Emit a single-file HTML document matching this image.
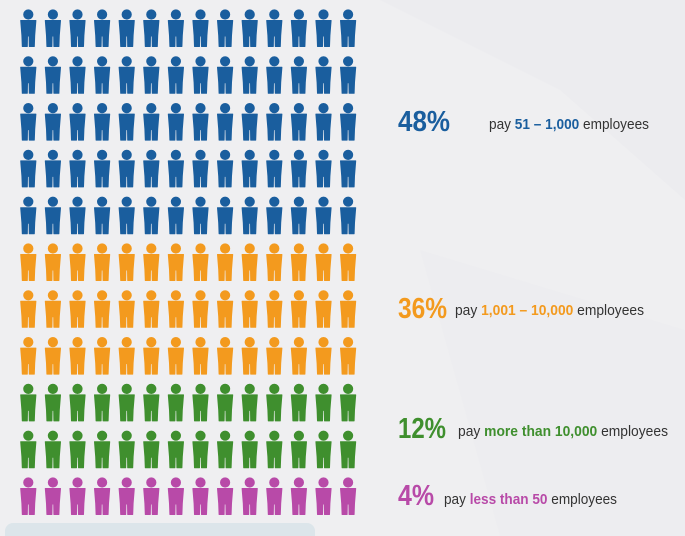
<!DOCTYPE html>
<html><head><meta charset="utf-8"><style>
html,body{margin:0;padding:0;background:#eeeef0;}
svg{display:block}
</style></head><body>
<svg width="685" height="536" viewBox="0 0 685 536" xmlns="http://www.w3.org/2000/svg">
<defs>
<g id="p">
<circle cx="0" cy="5" r="4.6"/>
<path d="M-7.6,11 L7.6,11 L6.4,26 L6,37 L1,37 L0.8,26.5 L-0.8,26.5 L-1,37 L-6,37 L-6.4,26 Z" stroke-linejoin="round" stroke-width="1"/>
</g>
</defs>
<rect width="685" height="536" fill="#efeff1"/>
<polygon points="380,0 685,0 685,200 560,90" fill="#ececef"/>
<polygon points="420,250 685,330 685,536 500,536" fill="#ededf0"/>
<rect x="5" y="523" width="310" height="20" rx="8" fill="#dce5ea"/>
<g id="grid"></g>
<g font-family="'Liberation Sans Narrow','Liberation Sans',sans-serif">
<text x="398" y="131" font-size="29" font-weight="bold" fill="#1a5e9e" textLength="52" lengthAdjust="spacingAndGlyphs">48%</text>
<text x="489" y="129" font-size="15" fill="#333" textLength="160" lengthAdjust="spacingAndGlyphs">pay <tspan font-weight="bold" fill="#1a5e9e">51 – 1,000</tspan> employees</text>
<text x="398" y="318" font-size="29" font-weight="bold" fill="#f39a1e" textLength="49" lengthAdjust="spacingAndGlyphs">36%</text>
<text x="455" y="315" font-size="15" fill="#333" textLength="189" lengthAdjust="spacingAndGlyphs">pay <tspan font-weight="bold" fill="#f39a1e">1,001 – 10,000</tspan> employees</text>
<text x="398" y="438" font-size="29" font-weight="bold" fill="#3f8f2e" textLength="48" lengthAdjust="spacingAndGlyphs">12%</text>
<text x="458" y="436" font-size="15" fill="#333" textLength="210" lengthAdjust="spacingAndGlyphs">pay <tspan font-weight="bold" fill="#3f8f2e">more than 10,000</tspan> employees</text>
<text x="398" y="505" font-size="29" font-weight="bold" fill="#b84aa8" textLength="36" lengthAdjust="spacingAndGlyphs">4%</text>
<text x="444" y="504" font-size="15" fill="#333" textLength="173" lengthAdjust="spacingAndGlyphs">pay <tspan font-weight="bold" fill="#b84aa8">less than 50</tspan> employees</text>
</g>
<script>
(function(){
var g=document.getElementById('grid'),ns='http://www.w3.org/2000/svg';
var cols=['#1a5e9e','#1a5e9e','#1a5e9e','#1a5e9e','#1a5e9e','#f39a1e','#f39a1e','#f39a1e','#3f8f2e','#3f8f2e','#b84aa8'];
for(var r=0;r<11;r++){for(var c=0;c<14;c++){
var u=document.createElementNS(ns,'use');
u.setAttribute('href','#p');
var x=28.3+24.6*c,y=9.5+46.8*r;
u.setAttribute('transform','translate('+x+','+y+')');
u.setAttribute('fill',cols[r]);u.setAttribute('stroke',cols[r]);
g.appendChild(u);}}
})();
</script>
</svg>
</body></html>
